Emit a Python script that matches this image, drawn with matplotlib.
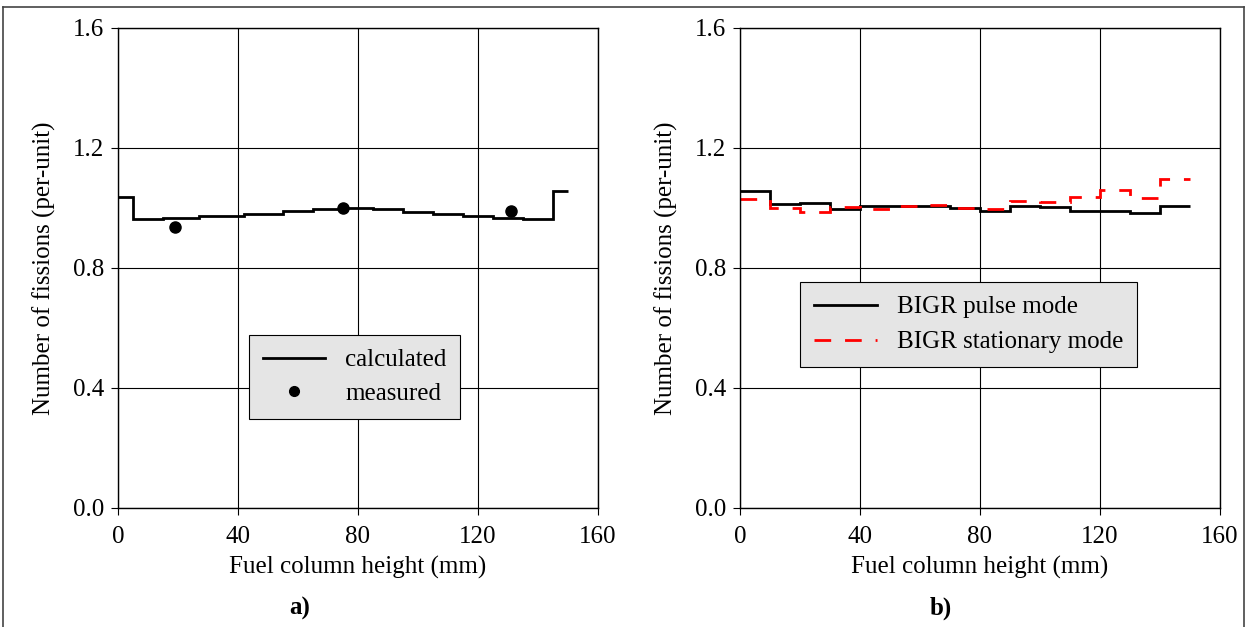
import numpy as np
import matplotlib
matplotlib.use("Agg")
import matplotlib.pyplot as plt
from matplotlib.lines import Line2D

plt.rcParams['font.family'] = ['Liberation Serif', 'DejaVu Serif']

# ---- panel a) data ----
calc_edges = [0, 5, 15, 27, 42, 55, 65, 75, 85, 95, 105, 115, 125, 135, 145, 150]
calc_vals = [1.036, 0.962, 0.967, 0.973, 0.979, 0.989, 0.998, 1.001, 0.997, 0.987,
             0.980, 0.972, 0.968, 0.962, 1.058]
meas_x = [19, 75, 131]
meas_y = [0.938, 0.999, 0.990]

# ---- panel b) data ----
bigr_edges = [0, 10, 20, 30, 40, 50, 60, 70, 80, 90, 100, 110, 120, 130, 140, 150]
pulse_vals = [1.057, 1.015, 1.018, 0.996, 1.008, 1.008, 1.008, 1.000, 0.990,
              1.006, 1.002, 0.989, 0.989, 0.982, 1.007]
stat_vals = [1.031, 1.000, 0.986, 1.004, 0.997, 1.008, 1.009, 0.999, 0.998,
             1.024, 1.021, 1.036, 1.059, 1.032, 1.097]

xticks = [0, 40, 80, 120, 160]
yticks = [0.0, 0.4, 0.8, 1.2, 1.6]

FS = 18

fig = plt.figure(figsize=(12.46, 6.27), dpi=100)
W, H = 1246, 627


def make_axes(left_px):
    ax = fig.add_axes([left_px / W, (H - 508) / H, 480 / W, 480 / H])
    ax.set_xlim(0, 160)
    ax.set_ylim(0, 1.6)
    ax.set_xticks(xticks)
    ax.set_yticks(yticks)
    ax.set_yticklabels([f"{v:.1f}" for v in yticks])
    ax.grid(True, color='black', linewidth=0.8)
    ax.set_axisbelow(True)
    ax.tick_params(labelsize=FS, direction='out', length=5, width=0.8, color='black', pad=5)
    ax.tick_params(axis='x', pad=8)
    for s in ax.spines.values():
        s.set_linewidth(1.0)
    ax.set_xlabel("Fuel column height (mm)", fontsize=FS, labelpad=6)
    ax.set_ylabel("Number of fissions (per-unit)", fontsize=FS, labelpad=12)
    return ax


ax1 = make_axes(118)
ax1.stairs(calc_vals, calc_edges, baseline=None, color='black', linewidth=2.0)
ax1.plot(meas_x, meas_y, 'o', color='black', markersize=8, linestyle='none')
h1 = [Line2D([], [], color='black', linewidth=2.0),
      Line2D([], [], marker='o', color='black', markersize=7, linestyle='none')]
leg1 = ax1.legend(h1, ["calculated", "measured"], loc='center', bbox_to_anchor=(0.493, 0.273),
                  fontsize=FS, fancybox=False, framealpha=1, facecolor='#e5e5e5',
                  edgecolor='black', handlelength=2.5, borderpad=0.55, labelspacing=0.45)
leg1.get_frame().set_linewidth(0.8)

ax2 = make_axes(740)
ax2.stairs(pulse_vals, bigr_edges, baseline=None, color='black', linewidth=2.0)
ax2.stairs(stat_vals, bigr_edges, baseline=None, color='red', linewidth=2.0,
           linestyle=(0, (6, 5)))
h2 = [Line2D([], [], color='black', linewidth=2.0),
      Line2D([], [], color='red', linewidth=2.0, linestyle=(0, (6, 5)))]
leg2 = ax2.legend(h2, ["BIGR pulse mode", "BIGR stationary mode"], loc='center',
                  bbox_to_anchor=(0.476, 0.382), fontsize=FS, fancybox=False, framealpha=1,
                  facecolor='#e5e5e5', edgecolor='black', handlelength=2.5,
                  borderpad=0.55, labelspacing=0.5)
leg2.get_frame().set_linewidth(0.8)

fig.text(300 / W, 1 - 608 / H, "a)", fontsize=FS, fontweight='bold', ha='center', va='center')
fig.text(941 / W, 1 - 608 / H, "b)", fontsize=FS, fontweight='bold', ha='center', va='center')

# outer frame
fig.add_artist(Line2D([3 / W, 3 / W], [0, 1 - 7 / H], color='#444444', linewidth=1.2,
                      transform=fig.transFigure))
fig.add_artist(Line2D([3 / W, 1244 / W], [1 - 7 / H, 1 - 7 / H], color='#444444',
                      linewidth=1.2, transform=fig.transFigure))
fig.add_artist(Line2D([1244 / W, 1244 / W], [0, 1 - 7 / H], color='#444444', linewidth=1.2,
                      transform=fig.transFigure))

fig.savefig("out.png", dpi=100)
